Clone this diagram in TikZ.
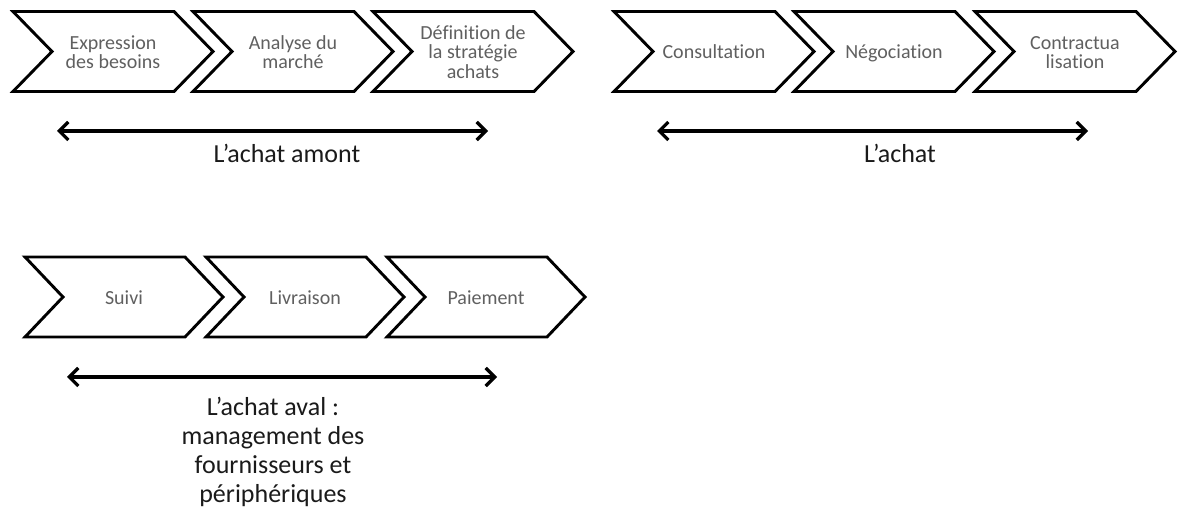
\documentclass[tikz,border=0pt]{standalone}
\usepackage{fontspec}
\setmainfont{Carlito}[Ligatures=NoCommon]
\usetikzlibrary{arrows.meta}
\definecolor{chevgray}{HTML}{606060}
\definecolor{labelblack}{HTML}{1A1A1A}
\newcommand\cs{\rule[-6pt]{0pt}{22pt}}
\newcommand\tightlines{\lineskiplimit=-100pt\relax\lineskip=0pt\relax}
\tikzset{
  chevron/.style={draw=black, line width=2.9pt, line join=miter, fill=white},
  chevtext/.style={align=center, text=chevgray, font=\fontsize{20}{19.5}\selectfont\tightlines, inner sep=0pt},
  spanarrow/.style={line width=3.2pt, {Straight Barb[length=9pt,width=18pt]}-{Straight Barb[length=9pt,width=18pt]}},
  spanlabel/.style={align=center, text=labelblack, font=\fontsize{26}{29}\selectfont, inner sep=0pt, anchor=north}
}
\newcommand\mychev[6]{% name, x0, top, width, depth, text
  \draw[chevron] (#2,#3) -- ++(#4-#5,0) -- ++(#5,40) -- ++(-#5,40) -- ++(-#4+#5,0) -- ++(#5,-40) -- cycle;
  \node[chevtext] (#1) at ({#2+#4/2},{#3+42.5}) {#6};
}
\begin{document}
\begin{tikzpicture}[x=1pt,y=-1pt]
\useasboundingbox (0,0) rectangle (1179,518);
% Row 1, group 1
\mychev{c1}{13}{11.5}{200}{39}{\cs Expression\\\cs des besoins}
\mychev{c2}{193}{11.5}{200}{39}{\cs Analyse du\\\cs march\'e}
\mychev{c3}{373}{11.5}{200}{39}{\cs D\'efinition de\\\cs la strat\'egie\\\cs achats}
% Row 1, group 2
\mychev{c4}{614}{11.5}{200}{39}{\cs Consultation}
\mychev{c5}{794}{11.5}{200}{39}{\cs N\'egociation}
\mychev{c6}{975}{11.5}{200}{39}{\cs Contractua\\\cs lisation}
% Row 2
\mychev{c7}{25}{257}{198}{38}{\cs Suivi}
\mychev{c8}{206}{257}{198}{38}{\cs Livraison}
\mychev{c9}{387}{257}{198}{38}{\cs Paiement}
% Arrows
\coordinate (a1l) at (57,131);
\coordinate (a1r) at (488,131);
\coordinate (a2l) at (657,131);
\coordinate (a2r) at (1088,131);
\coordinate (a3l) at (67,377);
\coordinate (a3r) at (497,377);
\draw[spanarrow] (a1l) -- (a1r);
\draw[spanarrow] (a2l) -- (a2r);
\draw[spanarrow] (a3l) -- (a3r);
\node[spanlabel] (l1) at (287,144) {L'achat amont};
\node[spanlabel] (l2) at (900,144) {L'achat};
\node[spanlabel] (l3) at (273,397) {L'achat aval :\\management des\\fournisseurs et\\p\'eriph\'eriques};
\end{tikzpicture}
\end{document}
